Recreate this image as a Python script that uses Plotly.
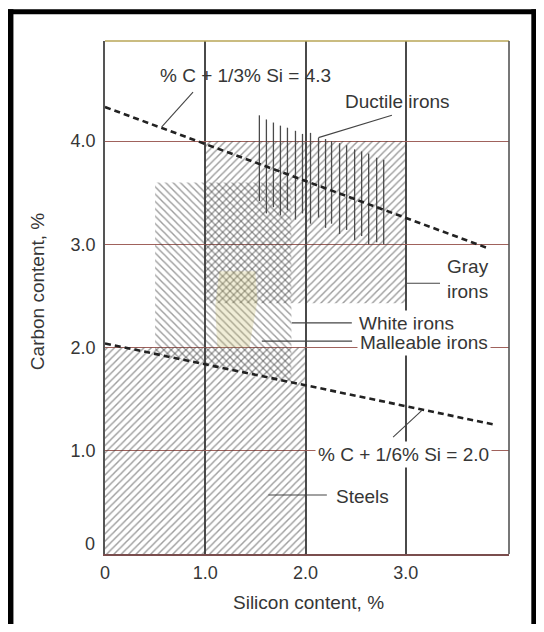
import plotly.graph_objects as go

# ---------------- axis ticks ----------------
si_ticks = [0, 1.0, 2.0, 3.0]
si_tick_labels = ["0", "1.0", "2.0", "3.0"]
c_ticks = [1.0, 2.0, 3.0, 4.0]
c_tick_labels = ["1.0", "2.0", "3.0", "4.0"]
c_zero_label = "0"

x_title = "Silicon content, %"
y_title = "Carbon content, %"

# ---------------- composition regions (Si %, C %) ----------------
steels_si = [0.0, 2.0, 2.0, 0.0]
steels_c = [0.0, 0.0, 2.0, 2.0]

gray_si = [1.0, 3.0, 3.0, 1.0]
gray_c = [2.43, 2.43, 4.0, 4.0]

white_si = [0.5, 1.86, 1.86, 0.5]
white_c = [1.94, 1.66, 3.6, 3.6]

malleable_si = [1.12, 1.44, 1.52, 1.50, 1.14, 1.10]
malleable_c = [2.00, 2.00, 2.45, 2.74, 2.74, 2.40]

# ductile irons: vertical strokes
ductile_si = [1.54, 1.61, 1.68, 1.75, 1.82, 1.90, 1.97, 2.05, 2.13, 2.20,
              2.26, 2.34, 2.41, 2.49, 2.56, 2.63, 2.71, 2.78]
ductile_c_low = [3.42, 3.30, 3.36, 3.28, 3.33, 3.24, 3.30, 3.20, 3.26, 3.16,
                 3.20, 3.10, 3.14, 3.04, 3.08, 3.00, 3.02, 3.00]
ductile_c_high = [4.25, 4.21, 4.18, 4.15, 4.13, 4.10, 4.07, 4.08, 4.03, 4.02,
                  4.00, 3.98, 3.96, 3.92, 3.90, 3.88, 3.84, 3.82]

# carbon-equivalent lines
ce43_si = [0.0, 3.8]
ce43_c = [4.33, 2.97]
ce20_si = [0.0, 3.9]
ce20_c = [2.04, 1.25]

# ---------------- labels ----------------
label_text = ["% C + 1/3% Si = 4.3", "Ductile irons", "Gray<br>irons", "White irons",
              "Malleable irons", "% C + 1/6% Si = 2.0", "Steels"]
label_si = [1.397, 2.914, 3.623, 2.505, 2.515, 2.093, 2.275]
label_c = [4.637, 4.385, 2.66, 2.236, 2.047, 0.968, 0.557]
label_anchor = ["center", "center", "center", "left", "left", "left", "left"]
label_bg = [False, False, False, True, True, True, False]

leader_si0 = [0.878, 2.862, 3.010, 1.863, 1.564, 2.874, 1.630]
leader_c0 = [4.475, 4.250, 2.623, 2.239, 2.062, 1.133, 0.571]
leader_si1 = [0.566, 2.129, 3.342, 2.462, 2.465, 3.164, 2.213]
leader_c1 = [4.137, 4.034, 2.623, 2.239, 2.062, 1.394, 0.571]

X_RANGE = [0, 4.03]
Y_RANGE = [0, 4.97]

FONT = "Liberation Sans, Arial, sans-serif"
TXT = "#363636"
HATCH = "#3c3c3c"

fig = go.Figure()


def hatch_region(xs, ys, shape, name):
    fig.add_trace(go.Scatter(
        x=xs + [xs[0]], y=ys + [ys[0]], mode="lines", fill="toself",
        fillcolor="rgba(0,0,0,0)",
        fillpattern=dict(shape=shape, size=5.2, solidity=0.28,
                         fgcolor=HATCH, bgcolor="rgba(0,0,0,0)"),
        line=dict(width=0, color="rgba(0,0,0,0)"), name=name,
        hoverinfo="skip", showlegend=False))


hatch_region(steels_si, steels_c, "/", "Steels")
hatch_region(gray_si, gray_c, "/", "Gray irons")
hatch_region(white_si, white_c, "\\", "White irons")

fig.add_trace(go.Scatter(
    x=malleable_si + [malleable_si[0]], y=malleable_c + [malleable_c[0]],
    mode="lines", fill="toself", fillcolor="rgba(200,190,110,0.28)",
    line=dict(width=0, color="rgba(0,0,0,0)"), name="Malleable irons",
    hoverinfo="skip", showlegend=False))

# ductile strokes
dx, dy = [], []
for s, lo, hi in zip(ductile_si, ductile_c_low, ductile_c_high):
    dx += [s, s, None]
    dy += [lo, hi, None]
fig.add_trace(go.Scatter(x=dx, y=dy, mode="lines",
                         line=dict(color="#4a4a4a", width=1.3),
                         name="Ductile irons", hoverinfo="skip", showlegend=False))

# CE lines
for xs, ys in [(ce43_si, ce43_c), (ce20_si, ce20_c)]:
    fig.add_trace(go.Scatter(x=xs, y=ys, mode="lines",
                             line=dict(color="#222222", width=2.6, dash="6px,4px"),
                             hoverinfo="skip", showlegend=False))

# leader lines
lx, ly = [], []
for a, b, c, d in zip(leader_si0, leader_c0, leader_si1, leader_c1):
    lx += [a, c, None]
    ly += [b, d, None]
fig.add_trace(go.Scatter(x=lx, y=ly, mode="lines",
                         line=dict(color="#444444", width=1.1),
                         hoverinfo="skip", showlegend=False))


def to_paper_x(v):
    return (v - X_RANGE[0]) / (X_RANGE[1] - X_RANGE[0])


def to_paper_y(v):
    return (v - Y_RANGE[0]) / (Y_RANGE[1] - Y_RANGE[0])


annotations = []
for t, x, y, anc, bg in zip(label_text, label_si, label_c, label_anchor, label_bg):
    annotations.append(dict(
        x=x, y=y, xref="x", yref="y", text=t, showarrow=False,
        xanchor=anc, yanchor="middle", align="center",
        font=dict(family=FONT, size=19, color=TXT),
        bgcolor="white" if bg else "rgba(0,0,0,0)", borderpad=2))

annotations.append(dict(x=to_paper_x(-0.083), y=to_paper_y(0.097), xref="paper", yref="paper",
                        text=c_zero_label, showarrow=False, xanchor="right", yanchor="middle",
                        font=dict(family=FONT, size=18, color=TXT)))
annotations.append(dict(x=to_paper_x(-0.666), y=to_paper_y(2.539), xref="paper", yref="paper",
                        text=y_title, showarrow=False, textangle=-90,
                        xanchor="center", yanchor="middle",
                        font=dict(family=FONT, size=19, color=TXT)))
annotations.append(dict(x=to_paper_x(2.026), y=to_paper_y(-0.469), xref="paper", yref="paper",
                        text=x_title, showarrow=False,
                        xanchor="center", yanchor="middle",
                        font=dict(family=FONT, size=19, color=TXT)))

# page pixel layout (the page body adds an 8px offset)
OFF = 8
L, R, T, B = 105 - OFF, 508.7 - OFF, 40.7 - OFF, 554 - OFF
W, H = 528, 616


def px(xp):
    return (xp - OFF - L) / (R - L)


def py(yp):
    return (B - (yp - OFF)) / (B - T)


shapes = [
    dict(type="line", xref="paper", yref="paper", x0=0, x1=1, y0=1, y1=1,
         line=dict(color="#b9a657", width=1.6)),
    dict(type="line", xref="paper", yref="paper", x0=1, x1=1, y0=0, y1=1,
         line=dict(color="#555555", width=1.6)),
    # outer black frame
    dict(type="rect", xref="paper", yref="paper", x0=px(8), x1=px(13.5),
         y0=py(640), y1=py(9), fillcolor="black", line=dict(width=0)),
    dict(type="rect", xref="paper", yref="paper", x0=px(8), x1=px(537),
         y0=py(14), y1=py(9), fillcolor="black", line=dict(width=0)),
    dict(type="rect", xref="paper", yref="paper", x0=px(531), x1=px(537),
         y0=py(640), y1=py(9), fillcolor="black", line=dict(width=0)),
]

fig.update_layout(
    width=W, height=H,
    margin=dict(l=L, r=W - R, t=T, b=H - B),
    paper_bgcolor="white", plot_bgcolor="white",
    showlegend=False,
    annotations=annotations, shapes=shapes,
    font=dict(family=FONT, color=TXT),
)
fig.update_xaxes(range=X_RANGE, tickvals=si_ticks, ticktext=si_tick_labels,
                 showgrid=True, gridcolor="#4a4a4a", gridwidth=1.5,
                 zeroline=False, showline=True, linecolor="#7a4d4d", linewidth=1.6,
                 ticks="outside", ticklen=2, tickcolor="rgba(0,0,0,0)",
                 tickfont=dict(family=FONT, size=18, color=TXT), fixedrange=True)
fig.update_yaxes(range=Y_RANGE, tickvals=c_ticks, ticktext=c_tick_labels,
                 showgrid=True, gridcolor="#a0625c", gridwidth=1.1,
                 zeroline=False, showline=True, linecolor="#555555", linewidth=1.6,
                 ticks="outside", ticklen=4, tickcolor="rgba(0,0,0,0)",
                 tickfont=dict(family=FONT, size=18, color=TXT), fixedrange=True)

fig.write_html("out.html")
